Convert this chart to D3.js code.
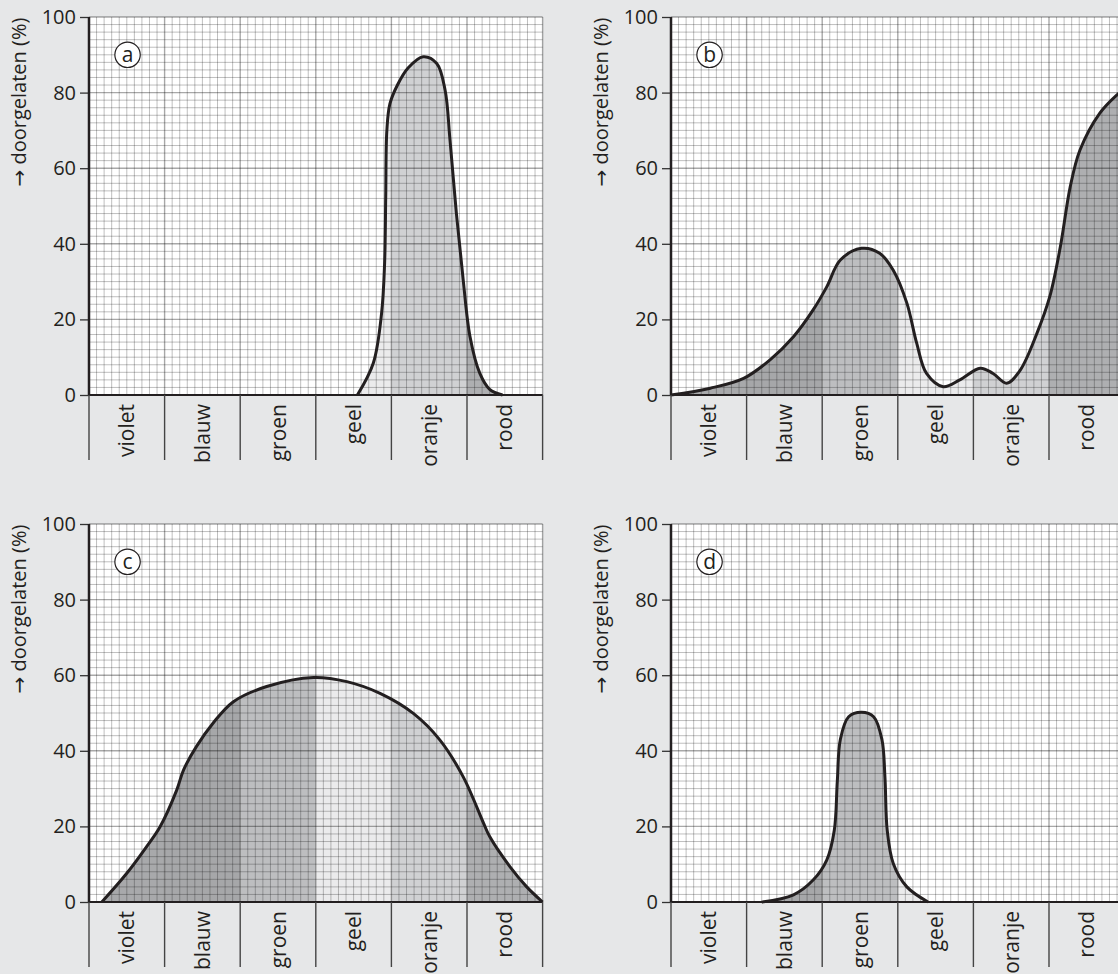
<!DOCTYPE html>
<html>
<head>
<meta charset="utf-8">
<script src="https://cdn.jsdelivr.net/npm/d3@7"></script>
<style>
	body { margin: 0; background: #e6e7e8; }
	svg { display: block; font-family: "Open Sans", sans-serif; }
</style>
</head>
<body>
<div id="chart"></div>
<script>

// kleuren van het spectrum (x-as) en de y-as
var categories = ['violet', 'blauw', 'groen', 'geel', 'oranje', 'rood'];
var yTicks = [0, 20, 40, 60, 80, 100];
var panelLabels = ['a', 'b', 'c', 'd'];

// doorgelaten (%) tegen positie in het spectrum (0..6 = violet..rood)
var curveA = [[3.55, 0], [3.76, 8.4], [3.87, 21.6], [3.91, 34.8], [3.925, 52.5], [3.94, 70],
	[3.98, 77], [4.08, 82], [4.22, 86.5], [4.42, 89.5], [4.6, 87.7], [4.71, 80.7],
	[4.775, 67.5], [4.86, 48], [4.95, 30.4], [5.04, 15.4], [5.17, 5.7], [5.3, 1.5], [5.47, 0]];

var curveB = [[0, 0], [0.52, 1.8], [0.96, 4.4], [1.31, 9.3], [1.62, 15.4], [1.88, 22.5],
	[2.06, 28.6], [2.24, 35.7], [2.52, 38.8], [2.76, 37.5], [2.94, 33], [3.12, 24.3],
	[3.25, 13.7], [3.38, 5.7], [3.6, 2.2], [3.82, 4], [4.09, 7.1], [4.26, 5.7],
	[4.44, 3.1], [4.62, 6.6], [4.84, 16.3], [5.01, 26], [5.15, 39.2], [5.28, 55],
	[5.41, 64.8], [5.67, 74.5], [5.9, 79.4], [6, 81]];

var curveC = [[0.17, 0], [0.5, 7.6], [0.76, 14.6], [0.94, 19.9], [1.16, 29.6], [1.25, 34.9],
	[1.42, 41.1], [1.64, 47.3], [1.91, 53], [2.35, 57], [2.97, 59.4], [3.41, 58.3],
	[3.85, 55.2], [4.29, 49.9], [4.64, 42.9], [4.95, 33.1], [5.22, 20.8], [5.3, 17.3],
	[5.57, 9.3], [5.79, 4], [6, 0]];

var curveD = [[1.2, 0], [1.62, 1.9], [1.88, 5.8], [2.06, 11.1], [2.16, 19], [2.2, 32],
	[2.24, 43], [2.35, 49], [2.52, 50.2], [2.68, 49], [2.79, 43], [2.83, 33],
	[2.86, 19], [2.94, 10.2], [3.12, 4], [3.4, 0]];

var curves = [curveA, curveB, curveC, curveD];

var chart = {
	width: 1118,
	height: 974,
	plotW: 453.6,
	plotH: 378,
	origins: [[89, 17], [671, 17], [89, 524], [671, 524]],
	shades: ['#a8a9ab', '#a6a7a9', '#bdbec0', '#ebebec', '#d0d1d3', '#aeafb1'],
	ink: '#231f20'
};

var svg = d3.select('#chart')
	.append('svg')
	.attr('width', chart.width)
	.attr('height', chart.height);

var defs = svg.append('defs');

var xScale = d3.scaleLinear()
	.domain([0, categories.length])
	.range([0, chart.plotW]);

var yScale = d3.scaleLinear()
	.domain([0, 100])
	.range([chart.plotH, 0]);

var smooth = d3.curveCatmullRom.alpha(0.5);

var area = d3.area()
	.x(function (d) { return xScale(d[0]); })
	.y0(yScale(0))
	.y1(function (d) { return yScale(d[1]); })
	.curve(smooth);

var line = d3.line()
	.x(function (d) { return xScale(d[0]); })
	.y(function (d) { return yScale(d[1]); })
	.curve(smooth);

curves.forEach(function (data, p) {

	var g = svg.append('g')
		.attr('transform', 'translate(' + chart.origins[p][0] + ',' + chart.origins[p][1] + ')');

	// witte achtergrond van het ruitjespapier
	g.append('rect')
		.attr('fill', '#fff')
		.attr('width', chart.plotW)
		.attr('height', chart.plotH);

	// gekleurde vulling per band onder de kromme
	categories.forEach(function (c, i) {
		var id = 'clip-' + p + '-' + i;
		defs.append('clipPath')
			.attr('id', id)
			.append('rect')
			.attr('x', xScale(i))
			.attr('y', 0)
			.attr('width', xScale(i + 1) - xScale(i))
			.attr('height', chart.plotH);

		g.append('path')
			.datum(data)
			.attr('clip-path', 'url(#' + id + ')')
			.attr('fill', chart.shades[i])
			.attr('d', area);
	});

	// grid: fijne lijnen per 0.1 band en per 2 %
	var xMinor = d3.range(0, 61).map(function (k) { return k / 10; });
	var yMinor = d3.range(0, 51).map(function (k) { return k * 2; });

	g.append('g').selectAll('line')
		.data(xMinor)
		.enter().append('line')
		.attr('x1', function (d) { return xScale(d); })
		.attr('x2', function (d) { return xScale(d); })
		.attr('y1', 0)
		.attr('y2', chart.plotH)
		.attr('stroke', '#000')
		.attr('stroke-opacity', function (d, k) { return k % 10 === 0 ? 0.34 : 0.25; })
		.attr('stroke-width', function (d, k) { return k % 10 === 0 ? 1.4 : 1; });

	g.append('g').selectAll('line')
		.data(yMinor)
		.enter().append('line')
		.attr('x1', 0)
		.attr('x2', chart.plotW)
		.attr('y1', function (d) { return yScale(d); })
		.attr('y2', function (d) { return yScale(d); })
		.attr('stroke', '#000')
		.attr('stroke-opacity', function (d, k) { return k % 10 === 0 ? 0.34 : 0.25; })
		.attr('stroke-width', function (d, k) { return k % 10 === 0 ? 1.4 : 1; });

	// de kromme zelf
	g.append('path')
		.datum(data)
		.attr('fill', 'none')
		.attr('stroke', chart.ink)
		.attr('stroke-width', 3)
		.attr('stroke-linejoin', 'round')
		.attr('d', line);

	// y-as met streepjes
	var yAxis = d3.axisLeft(yScale)
		.tickValues(yTicks)
		.tickSize(9)
		.tickPadding(4)
		.tickFormat(d3.format('d'));

	var ya = g.append('g')
		.attr('class', 'y-axis')
		.call(yAxis);

	ya.select('.domain').remove();
	ya.selectAll('line').attr('stroke', '#333').attr('stroke-width', 1.3);
	ya.selectAll('text')
		.attr('fill', chart.ink)
		.style('font-size', '20px')
		.style('font-family', '"Open Sans", sans-serif');

	g.append('line')
		.attr('x1', 0).attr('x2', 0)
		.attr('y1', 0).attr('y2', chart.plotH)
		.attr('stroke', chart.ink)
		.attr('stroke-width', 2.5);

	// x-as en vakjes met de kleurnamen
	g.append('line')
		.attr('x1', 0).attr('x2', chart.plotW)
		.attr('y1', chart.plotH).attr('y2', chart.plotH)
		.attr('stroke', chart.ink)
		.attr('stroke-width', 2);

	g.append('g').selectAll('line')
		.data(d3.range(0, categories.length + 1))
		.enter().append('line')
		.attr('x1', function (d) { return xScale(d); })
		.attr('x2', function (d) { return xScale(d); })
		.attr('y1', chart.plotH)
		.attr('y2', chart.plotH + 65)
		.attr('stroke', '#444')
		.attr('stroke-width', 1.4);

	g.append('g').selectAll('text')
		.data(categories)
		.enter().append('text')
		.attr('transform', function (d, i) {
			return 'translate(' + xScale(i + 0.5) + ',' + (chart.plotH + 9) + ') rotate(-90)';
		})
		.attr('text-anchor', 'end')
		.attr('dy', '0.36em')
		.attr('fill', chart.ink)
		.style('font-size', '21px')
		.text(function (d) { return d; });

	// aslabel
	var title = g.append('text')
		.attr('transform', 'translate(-63,' + (chart.plotH * 0.225) + ') rotate(-90)')
		.attr('text-anchor', 'middle')
		.attr('fill', chart.ink)
		.style('font-size', '20px');

	title.append('tspan')
		.style('font-family', '"DejaVu Sans", sans-serif')
		.text('\u2192');

	title.append('tspan')
		.text(' doorgelaten (%)');

	// letter in cirkel
	var badge = g.append('g')
		.attr('transform', 'translate(' + xScale(0.51) + ',' + yScale(90) + ')');

	badge.append('circle')
		.attr('r', 12.7)
		.attr('fill', '#fff')
		.attr('stroke', chart.ink)
		.attr('stroke-width', 1.2);

	badge.append('text')
		.attr('text-anchor', 'middle')
		.attr('dy', '0.33em')
		.attr('fill', chart.ink)
		.style('font-size', '21px')
		.text(panelLabels[p]);
});

</script>
</body>
</html>
